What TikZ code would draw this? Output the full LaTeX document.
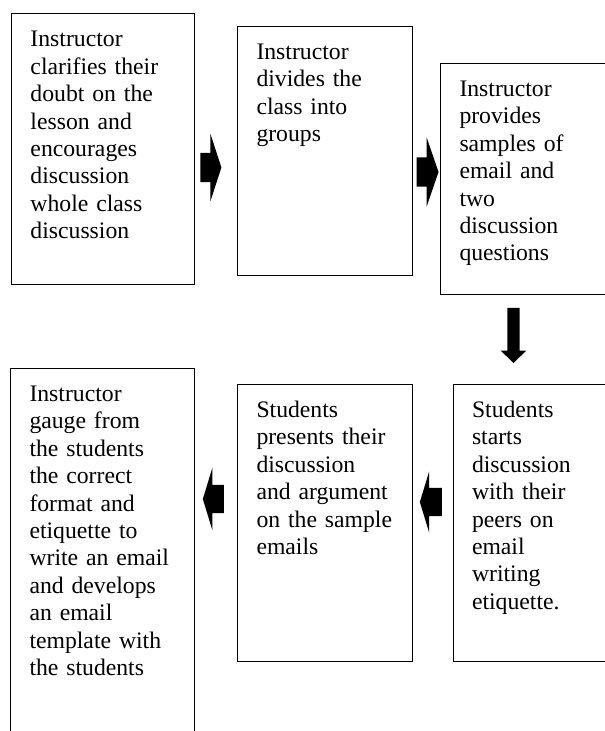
\documentclass[tikz,border=0pt]{standalone}
\usepackage{fontspec}
\setmainfont{Liberation Serif}
\usetikzlibrary{shapes.arrows}
\tikzset{
  stepbox/.style={draw,line width=1pt,anchor=north west,align=left,inner xsep=19pt,inner ysep=0pt,text height=33pt,font=\fontsize{23.7}{27.4}\selectfont},
  blockarrow/.style={single arrow,fill=black,draw=none,inner xsep=0pt,single arrow head indent=0pt}
}
\begin{document}
\begin{tikzpicture}[x=1pt,y=-1pt]
\useasboundingbox (0,0) rectangle (605,731);
\clip (0,0) rectangle (605,731);
\node[stepbox,text width=145pt,text depth=237.7pt] (clarify) at (11,13.3) {Instructor\\clarifies their\\doubt on the\\lesson and\\encourages\\discussion\\whole class\\discussion};
\node[stepbox,text width=137pt,text depth=216pt] (divide) at (237,26) {Instructor\\divides the\\class into\\groups};
\node[stepbox,text width=162pt,text depth=198pt] (samples) at (440,63) {Instructor\\provides\\samples of\\email and\\two\\discussion\\questions};
\node[stepbox,text width=162pt,text depth=244pt] (starts) at (452.5,384) {Students\\starts\\discussion\\with their\\peers on\\email\\writing\\etiquette.};
\node[stepbox,text width=137pt,text depth=244pt] (presents) at (237,384) {Students\\presents their\\discussion\\and argument\\on the sample\\emails};
\node[stepbox,text width=146pt,text depth=367pt] (gauge) at (10,368) {Instructor\\gauge from\\the students\\the correct\\format and\\etiquette to\\write an email\\and develops\\an email\\template with\\the students};

\node[blockarrow,minimum height=21pt,inner ysep=14.5pt,single arrow head extend=19pt,single arrow tip angle=144] (ar1) at (208.5,167.5) {};
\node[blockarrow,minimum height=22pt,inner ysep=14.5pt,single arrow head extend=20pt,single arrow tip angle=142] (ar2) at (425,172) {};
\node[blockarrow,rotate=-90,minimum height=55pt,inner ysep=6pt,single arrow head extend=6.5pt,single arrow tip angle=92] (ar3) at (513.5,332.5) {};
\node[blockarrow,rotate=180,minimum height=22pt,inner ysep=14pt,single arrow head extend=16.5pt,single arrow tip angle=146] (ar4) at (433,502) {};
\node[blockarrow,rotate=180,minimum height=21pt,inner ysep=14pt,single arrow head extend=17pt,single arrow tip angle=146] (ar5) at (215.5,499) {};
\end{tikzpicture}
\end{document}
